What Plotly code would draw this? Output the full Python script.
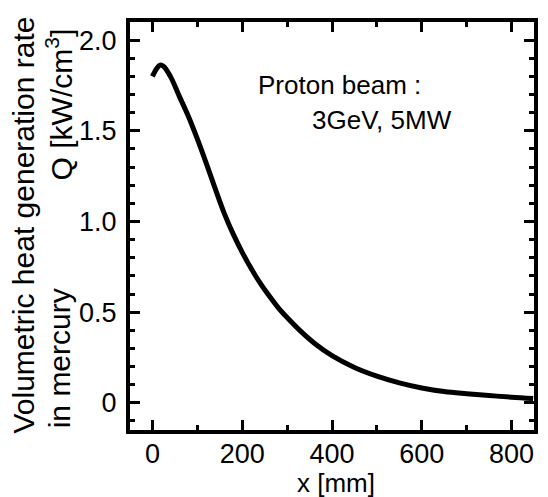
import plotly.graph_objects as go

# Data
x_mm = [0, 10, 17, 25, 40, 60, 80, 100, 120, 140, 160, 180, 200, 220, 240, 260,
        280, 300, 330, 360, 400, 450, 500, 550, 600, 650, 700, 750, 800, 848]
q_kw = [1.80, 1.845, 1.862, 1.855, 1.80, 1.69, 1.58, 1.455, 1.32, 1.18, 1.045,
        0.93, 0.83, 0.74, 0.66, 0.59, 0.525, 0.47, 0.395, 0.33, 0.26, 0.195,
        0.147, 0.11, 0.082, 0.062, 0.05, 0.04, 0.031, 0.024]

y_tickvals = [0, 0.5, 1.0, 1.5, 2.0]
y_ticktext = ["0", "0.5", "1.0", "1.5", "2.0"]
x_tickvals = [0, 200, 400, 600, 800]
x_ticktext = ["0", "200", "400", "600", "800"]

FONT = "Liberation Sans, Arial, Helvetica, sans-serif"

fig = go.Figure()
fig.add_trace(go.Scatter(x=x_mm, y=q_kw, mode="lines",
                         line=dict(color="black", width=5, shape="spline", smoothing=1.0),
                         showlegend=False, hoverinfo="skip", cliponaxis=True))

axis_common = dict(showline=True, linecolor="black", linewidth=4, mirror="allticks",
                   ticks="inside", ticklen=10, tickwidth=3, tickcolor="black",
                   showgrid=False, zeroline=False)

fig.update_xaxes(range=[-50, 850], tickvals=x_tickvals, ticktext=x_ticktext,
                 minor=dict(dtick=100, tick0=0, ticks="inside", ticklen=5, tickwidth=3,
                            tickcolor="black", showgrid=False),
                 ticklabelstandoff=-3,
                 tickfont=dict(family=FONT, size=27, color="black"), **axis_common)
fig.update_yaxes(range=[-0.15, 2.1], tickvals=y_tickvals, ticktext=y_ticktext,
                 minor=dict(dtick=0.1, tick0=0, ticks="inside", ticklen=5, tickwidth=3,
                            tickcolor="black", showgrid=False),
                 ticklabelstandoff=4,
                 tickfont=dict(family=FONT, size=27, color="black"), **axis_common)

title_font = dict(family=FONT, size=30, color="black")
fig.add_annotation(text="x [mm]", xref="paper", yref="paper", x=0.51, y=-0.131,
                   xanchor="center", yanchor="middle", showarrow=False,
                   font=dict(family=FONT, size=26, color="black"))
fig.add_annotation(text="Volumetric heat generation rate", xref="paper", yref="paper",
                   x=-0.263, y=0.503, xanchor="center", yanchor="middle",
                   textangle=-90, showarrow=False, font=title_font)
fig.add_annotation(text="in mercury", xref="paper", yref="paper",
                   x=-0.175, y=0.0, xanchor="center", yanchor="bottom",
                   textangle=-90, showarrow=False, font=title_font)
fig.add_annotation(text="Q [kW/cm<sup>3</sup>]", xref="paper", yref="paper",
                   x=-0.175, y=0.99, xanchor="center", yanchor="top",
                   textangle=-90, showarrow=False, font=title_font)
fig.add_annotation(text="Proton beam :", x=230, y=1.75, xanchor="left", yanchor="middle",
                   showarrow=False, font=dict(family=FONT, size=26, color="black"))
fig.add_annotation(text="3GeV, 5MW", x=350, y=1.56, xanchor="left", yanchor="middle",
                   showarrow=False, font=dict(family=FONT, size=26, color="black"))

# page body has an 8px margin, so the figure is offset by 8px; size compensates
fig.update_layout(width=540, height=489, paper_bgcolor="white", plot_bgcolor="white",
                  margin=dict(l=122, r=11, t=10, b=67), showlegend=False)

fig.write_html("out.html")
